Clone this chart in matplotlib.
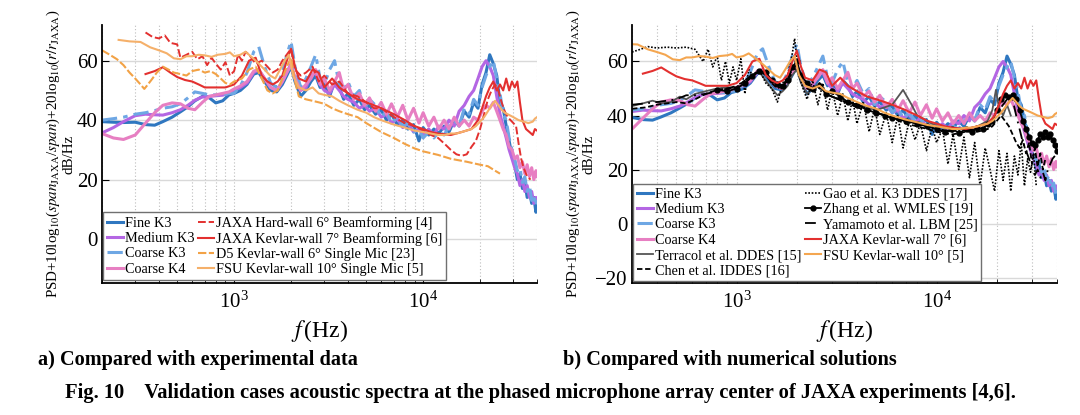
import matplotlib
matplotlib.use('Agg')
import matplotlib.pyplot as plt
from matplotlib.ticker import LogLocator, NullFormatter

plt.rcParams['font.family'] = ['Liberation Serif', 'DejaVu Serif']
plt.rcParams['mathtext.fontset'] = 'stix'

# ===== CFD spectra, shared frequency grid (Hz) / PSD (dB/Hz) ===== #
f_cfd = [200, 230, 260, 300, 340, 380, 420, 470, 520, 570,
         620, 680, 740, 800, 870, 940, 1000, 1080, 1170, 1270,
         1350, 1450, 1560, 1680, 1800, 1900, 2000, 2100, 2250, 2400,
         2550, 2700, 2850, 3000, 3200, 3400, 3600, 3800, 4000, 4300,
         4600, 4900, 5200, 5600, 6000, 6400, 6800, 7300, 7800, 8300,
         8900, 9500, 10000, 10700, 11400, 12100, 12900, 13700, 14600, 15500,
         16500, 17500, 18500, 19500, 20500, 21500, 22500, 23500, 24500, 25500,
         26500, 27500, 28500, 29500, 30500, 31500, 32500, 33500, 34500, 35500,
         36500, 37500, 38500, 39500, 40000]

fine_k3 = [39.5, 39.3, 39.2, 39.3, 38.5, 38.3, 39.5, 41.0, 42.8, 44.5,
           46.5, 48.0, 47.5, 45.8, 46.5, 48.5, 49.0, 50.0, 52.0, 55.5,
           56.0, 53.0, 50.0, 49.5, 52.0, 55.0, 58.0, 53.0, 48.0, 50.0,
           53.0, 55.0, 51.0, 52.0, 48.0, 53.0, 51.0, 47.0, 49.0, 45.0,
           47.0, 43.5, 45.0, 42.0, 43.5, 40.0, 42.0, 38.5, 40.0, 37.0,
           38.5, 33.0, 37.5, 35.0, 37.0, 35.5, 38.0, 36.0, 40.0, 38.0,
           43.0, 41.0, 46.0, 44.0, 52.0, 56.0, 62.0, 59.0, 55.0, 46.0,
           44.0, 38.0, 33.0, 28.0, 25.0, 20.0, 22.0, 17.0, 19.0, 14.0,
           16.0, 12.0, 14.0, 9.0, 12.0]

medium_k3 = [35.7, 37.5, 39.5, 41.5, 42.0, 41.8, 41.7, 42.5, 43.5, 45.0,
             46.7, 47.8, 48.0, 48.2, 48.4, 49.0, 50.0, 51.0, 52.5, 56.0,
             57.0, 54.0, 51.0, 50.0, 53.0, 56.0, 59.0, 54.0, 50.0, 51.0,
             55.0, 56.0, 52.0, 50.0, 49.0, 52.0, 50.0, 48.0, 47.0, 46.0,
             44.0, 45.0, 43.0, 44.0, 41.0, 42.0, 39.0, 40.5, 37.5, 39.0,
             36.0, 37.0, 35.0, 37.0, 35.0, 38.0, 37.0, 40.0, 38.0, 43.0,
             45.0, 48.0, 50.0, 54.0, 58.0, 60.0, 58.0, 55.0, 48.0, 42.0,
             38.0, 34.0, 30.0, 27.0, 24.0, 22.0, 18.0, 20.0, 16.0, 18.0,
             14.0, 16.0, 12.0, 14.0, 13.0]

coarse_k3 = [40.0, 40.5, 41.0, 42.0, 42.5, 43.2, 44.0, 44.5, 45.5, 47.5,
             49.5, 49.0, 48.5, 48.5, 48.5, 49.0, 49.0, 51.5, 56.0, 63.0,
             64.7, 58.0, 52.5, 51.0, 56.0, 62.0, 66.5, 58.0, 51.0, 54.0,
             58.0, 62.0, 54.0, 52.0, 57.0, 60.0, 52.0, 50.0, 53.0, 48.0,
             50.0, 44.0, 47.0, 45.0, 41.0, 43.0, 39.0, 41.0, 38.0, 39.0,
             36.0, 37.0, 34.0, 36.0, 34.0, 36.0, 35.0, 38.0, 40.0, 38.0,
             44.0, 42.0, 47.0, 45.0, 51.0, 55.0, 58.0, 60.0, 54.0, 49.0,
             42.0, 40.0, 34.0, 30.0, 27.0, 23.0, 24.0, 19.0, 21.0, 16.0,
             18.0, 13.0, 15.0, 11.0, 13.0]

coarse_k4 = [35.5, 34.0, 33.5, 35.0, 39.0, 42.5, 45.0, 45.8, 45.5, 44.0,
             43.5, 46.0, 48.0, 48.5, 49.0, 49.5, 50.5, 51.5, 53.0, 56.5,
             57.0, 54.0, 51.0, 50.0, 53.0, 56.0, 58.5, 54.0, 50.0, 52.0,
             54.0, 57.0, 52.0, 54.0, 50.0, 53.0, 56.0, 50.0, 52.0, 47.0,
             49.0, 45.0, 47.5, 43.0, 46.0, 42.0, 45.5, 41.0, 45.0, 40.0,
             44.0, 39.0, 42.5, 38.0, 41.0, 37.0, 40.0, 37.0, 41.0, 38.0,
             40.0, 38.0, 41.0, 40.0, 43.0, 45.0, 44.0, 46.0, 43.0, 40.0,
             37.0, 35.0, 31.0, 30.0, 27.0, 28.0, 24.0, 26.0, 22.0, 25.0,
             21.0, 24.0, 20.0, 23.0, 21.0]

# ===== experiments ===== #
f_jaxa_hard = [340, 370, 400, 430, 460, 500, 520, 560, 600, 640, 680, 720, 760, 800, 850,
               900, 950, 1000, 1050, 1100, 1150, 1200, 1300, 1400, 1500, 1600, 1700, 1800,
               2000, 2100, 2250, 2400, 2600, 2800, 3000, 3300, 3600, 4000, 4500, 5000, 5500,
               6000, 7000, 8000, 9000, 10000, 11000, 12000, 13000, 14000, 15000, 16000, 17000,
               18000, 19000, 20000, 21000, 22000, 23000, 24000, 25000, 26000, 27000, 28000,
               29000, 30000, 31000, 32000, 33000, 34000, 35500, 37000]
jaxa_hard = [69.5, 68.0, 67.5, 68.5, 66.0, 65.5, 61.0, 62.0, 63.0, 60.5, 61.5, 58.5, 61.0, 59.0, 57.0,
             59.5, 55.0, 56.5, 62.0, 60.0, 63.0, 62.0, 59.0, 60.0, 58.0, 56.0, 57.0, 60.0,
             64.0, 57.0, 55.0, 56.0, 58.0, 53.0, 55.0, 52.0, 53.0, 49.0, 48.0, 46.0, 44.0,
             44.0, 41.0, 39.0, 38.0, 36.5, 35.0, 34.0, 32.0, 30.0, 28.5, 28.0, 28.5,
             31.0, 33.0, 37.0, 42.0, 47.0, 50.0, 52.0, 50.0, 46.0, 43.0, 41.0,
             40.0, 39.0, 38.0, 32.0, 27.0, 24.0, 21.0, 20.0]

f_jaxa_kevlar = [340, 380, 420, 460, 500, 550, 600, 650, 700, 800, 900, 1000, 1100, 1200,
                 1300, 1400, 1500, 1600, 1700, 1800, 1900, 2000, 2100, 2200, 2400, 2600, 2800,
                 3000, 3300, 3600, 4000, 4500, 5000, 5500, 6000, 7000, 8000, 9000, 10000, 11000,
                 12000, 14000, 16000, 18000, 19500, 20500, 21500, 22500, 23500, 24500, 25500,
                 26500, 27500, 28500, 29500, 30500, 31500, 32500, 33500, 35000, 36500, 38000,
                 39000, 40000]
jaxa_kevlar = [55.5, 56.5, 57.8, 56.0, 54.5, 53.5, 53.0, 52.0, 51.0, 51.0, 51.0, 52.0, 55.0, 60.0,
               61.0, 55.0, 53.0, 52.0, 53.0, 55.0, 60.0, 64.0, 58.0, 54.0, 53.0, 57.0, 56.0,
               51.0, 54.0, 51.0, 49.0, 47.0, 46.0, 45.0, 44.0, 42.0, 40.0, 38.0, 37.0, 36.0,
               35.5, 35.0, 36.0, 37.0, 40.0, 44.0, 48.0, 51.0, 53.0, 50.0, 52.0,
               50.0, 54.0, 50.0, 53.0, 51.0, 53.0, 46.0, 40.0, 37.0, 36.0, 35.0,
               37.0, 36.5]

f_d5 = [200, 220, 240, 260, 280, 300, 320, 335, 350, 370, 390, 420, 450, 480, 520, 560,
        600, 650, 700, 750, 800, 850, 900, 950, 1000, 1100, 1200, 1300, 1400, 1500, 1600,
        1700, 1800, 1900, 2000, 2100, 2200, 2400, 2600, 2800, 3000, 3300, 3600, 4000, 4500,
        5000, 6000, 7000, 8000, 9000, 10000, 12000, 14000, 17000, 20000, 22000, 24000, 25500]
d5_kevlar = [63.5, 62.0, 60.5, 58.5, 56.0, 54.0, 52.0, 50.5, 52.0, 54.0, 56.0, 58.0, 57.0, 56.0, 55.5, 55.0,
             56.5, 57.0, 56.0, 56.5, 55.5, 54.0, 52.5, 52.0, 53.0, 54.0, 57.0, 58.0, 54.0, 50.0, 49.0,
             50.0, 54.0, 58.0, 61.0, 53.0, 48.0, 47.0, 46.5, 46.0, 45.5, 44.0, 43.0, 42.0, 41.0,
             39.0, 36.0, 34.0, 32.0, 30.5, 29.5, 28.3, 27.0, 26.0, 25.0, 24.5, 23.0, 22.0]

f_fsu = [245, 280, 320, 360, 400, 440, 480, 520, 560, 600, 650, 700, 760, 820, 900, 950,
         1000, 1080, 1150, 1250, 1350, 1450, 1550, 1650, 1750, 1850, 1950, 2050, 2200, 2400,
         2600, 2800, 3000, 3300, 3600, 4000, 4500, 5000, 5500, 6000, 7000, 8000, 9000, 10000,
         11000, 12000, 13000, 14000, 15000, 16000, 17000, 18000, 19000, 20000, 21000, 22000,
         23000, 24000, 25000, 26000, 27000, 28000, 30000, 32000, 34000, 36000, 38000, 39000, 40000]
fsu_kevlar = [67.0, 66.5, 66.3, 64.5, 63.5, 62.5, 60.8, 60.5, 61.5, 61.5, 62.0, 61.8, 61.3, 62.0, 62.3, 62.8,
              61.5, 62.0, 63.0, 61.0, 59.0, 57.0, 55.0, 54.0, 57.0, 60.0, 62.0, 55.0, 51.0, 50.0,
              51.0, 49.0, 48.5, 48.0, 46.5, 45.0, 43.5, 42.5, 41.0, 40.0, 38.5, 37.5, 36.5, 36.0,
              35.5, 35.0, 35.0, 35.5, 35.5, 36.0, 36.5, 37.0, 38.0, 39.5, 41.0, 43.0,
              45.0, 46.5, 45.0, 43.5, 42.5, 42.0, 41.0, 40.0, 39.5, 39.0, 39.5, 40.5, 41.0]

# ===== other numerical solutions ===== #
f_terracol = [300, 340, 380, 420, 470, 520, 560, 620, 700, 800, 900, 1000, 1100, 1200, 1300,
              1400, 1500, 1600, 1700, 1800, 1900, 2000, 2100, 2250, 2400, 2600, 2800, 3000,
              3500, 4000, 5000, 6000, 6800, 7500, 8000, 9000, 10000, 12000, 14000, 16000,
              18000, 19000, 19800, 20500, 21500, 22500, 23500]
terracol = [43.5, 44.5, 45.5, 44.5, 45.0, 47.0, 46.0, 48.0, 49.0, 50.0, 50.5, 50.0, 52.0, 55.0, 56.0,
            53.0, 50.0, 47.5, 49.0, 51.0, 55.0, 57.0, 52.0, 48.0, 50.0, 52.0, 48.0, 47.0,
            45.0, 44.0, 42.0, 44.0, 49.5, 44.0, 40.0, 38.0, 36.0, 35.0, 35.0, 36.0,
            38.0, 42.0, 49.5, 43.0, 40.0, 44.0, 40.0]

f_chen = [300, 350, 400, 450, 500, 560, 620, 700, 800, 900, 1000, 1100, 1200, 1300, 1400,
          1500, 1600, 1700, 1800, 1900, 2000, 2100, 2250, 2400, 2600, 2800, 3000, 3500, 4000,
          5000, 6000, 7000, 8000, 9000, 10000, 12000, 14000, 16000, 18000, 19000, 20000, 21000,
          22000, 23000, 24000, 25000, 26000, 27000, 28000, 29000, 30000, 31000, 32000, 33000,
          34000, 35000]
chen = [42.5, 43.0, 44.0, 44.5, 45.0, 44.5, 46.0, 48.0, 49.5, 50.0, 50.5, 53.0, 55.0, 56.5, 55.0,
        52.0, 50.0, 51.0, 54.0, 57.0, 59.0, 54.0, 50.0, 49.0, 52.0, 48.0, 47.0, 45.0, 44.0,
        41.0, 39.0, 37.0, 36.0, 35.0, 34.0, 33.0, 34.0, 34.0, 35.0, 36.0, 38.0, 40.0,
        38.0, 36.0, 33.0, 30.0, 28.0, 31.0, 26.0, 30.0, 22.0, 28.0, 21.0, 26.0,
        20.0, 24.0]

f_gao = [300, 330, 360, 400, 450, 500, 560, 620, 680, 720, 760, 800, 840, 880, 920, 960,
         1000, 1050, 1100, 1150, 1200, 1300, 1400, 1500, 1600, 1700, 1800, 1900, 1950, 2050,
         2150, 2250, 2400, 2550, 2700, 2850, 3000, 3200, 3400, 3600, 3800, 4000, 4300, 4600,
         4900, 5200, 5600, 6000, 6400, 6800, 7300, 7800, 8300, 8900, 9500, 10000, 10700,
         11400, 12100, 12900, 13700, 14600, 15500, 16500, 17500, 18500, 19500, 20500, 21500,
         22500, 23500, 24500, 25500, 26500, 27500, 28500, 29500, 30500, 31500]
gao = [63.5, 64.5, 65.5, 65.0, 65.3, 65.0, 65.3, 64.5, 60.0, 64.5, 58.0, 62.0, 53.0, 60.0, 52.0, 58.0,
       53.0, 61.0, 48.0, 57.0, 55.0, 57.0, 52.0, 50.0, 45.0, 52.0, 55.0, 63.0, 68.5, 55.0,
       50.0, 46.0, 53.0, 44.0, 52.0, 42.0, 50.0, 40.0, 48.0, 38.0, 46.0, 37.0, 45.0, 34.0,
       43.0, 33.0, 41.0, 30.0, 40.0, 28.0, 38.0, 31.0, 37.0, 27.0, 36.0, 30.0, 35.0,
       22.0, 33.0, 20.0, 32.0, 17.0, 30.0, 14.0, 28.0, 20.0, 12.0, 27.0, 16.0,
       26.0, 12.0, 25.0, 18.0, 30.0, 14.0, 24.0, 19.0, 26.0, 14.0]

f_zhang = [800, 900, 1000, 1100, 1200, 1300, 1400, 1500, 1600, 1700, 1800, 1900, 2000, 2100,
           2250, 2400, 2600, 2800, 3000, 3300, 3600, 4000, 4500, 5000, 5500, 6000, 7000, 8000,
           9000, 10000, 11000, 12000, 13000, 14000, 15000, 16000, 17000, 18000, 19000, 20000,
           21000, 22000, 23000, 24000, 25000, 26000, 27000, 28000, 29000, 30000, 31000, 32000,
           33000, 34000, 35000, 36000, 37000, 38000, 39000, 40000]
zhang = [49.5, 49.0, 50.0, 52.0, 54.5, 56.5, 56.0, 53.0, 51.5, 51.0, 53.0, 58.0, 60.0, 55.0,
         52.0, 50.0, 51.0, 48.0, 49.0, 47.0, 45.0, 44.0, 42.0, 41.0, 40.0, 39.0, 38.0, 37.0,
         36.0, 35.0, 34.0, 35.0, 33.5, 35.0, 34.0, 35.5, 35.0, 37.0, 38.0, 42.0,
         46.0, 47.5, 47.0, 47.5, 46.0, 42.0, 38.0, 35.0, 32.0, 30.0, 29.0, 31.0,
         33.0, 32.0, 34.0, 32.0, 33.0, 31.0, 29.0, 27.0]

f_yamamoto = [300, 350, 400, 450, 500, 560, 620, 700, 800, 900, 1000, 1100, 1200, 1300, 1400,
              1500, 1600, 1700, 1800, 1900, 2000, 2100, 2250, 2400, 2600, 2800, 3000, 3500,
              4000, 5000, 6000, 7000, 8000, 9000, 10000, 12000, 14000, 16000, 18000, 20000,
              21000, 22000, 23000, 24000, 25000, 26000, 27000, 28000, 29000, 30000, 31000,
              32000, 33000, 34000, 35000, 36000, 37000, 38000, 40000]
yamamoto = [44.0, 44.5, 45.0, 45.5, 46.0, 47.5, 47.5, 48.0, 49.0, 50.0, 51.0, 53.0, 55.0, 56.0, 55.0,
            53.0, 52.0, 51.0, 53.0, 56.0, 58.0, 54.0, 51.0, 50.0, 51.0, 48.0, 47.0, 45.0,
            43.0, 41.0, 39.5, 38.0, 37.0, 36.0, 35.0, 34.0, 34.5, 35.0, 36.0, 40.0,
            43.0, 45.0, 47.0, 46.0, 40.0, 35.0, 30.0, 27.0, 24.0, 20.0, 18.0,
            20.0, 17.0, 19.0, 16.0, 20.0, 22.0, 24.0, 26.0]

# ===== labels ===== #
ylabel_txt = ('PSD+10log$_{10}$($span_{\\rm JAXA}$/$span$)+20log$_{10}$($r/r_{\\rm JAXA}$)\n'
              'dB/Hz')
caption_a = 'a) Compared with experimental data'
caption_b = 'b) Compared with numerical solutions'
fig_caption = ('Fig. 10    Validation cases acoustic spectra at the phased microphone '
               'array center of JAXA experiments [4,6].')

c_fine = '#2f77c0'
c_medium = '#b466e3'
c_coarse3 = '#6ea7e4'
c_coarse4 = '#e77fc2'
c_red = '#e3302f'
c_orange = '#f4a650'


def style_axes(ax, xlim, ylim, yticks, label_x):
    ax.set_xscale('log')
    ax.set_xlim(*xlim)
    ax.set_ylim(*ylim)
    ax.set_yticks(yticks)
    ax.xaxis.set_minor_locator(LogLocator(base=10, subs=range(2, 10)))
    ax.xaxis.set_minor_formatter(NullFormatter())
    ax.grid(axis='y', which='major', color='#d9d9d9', lw=1.0, ls='-')
    ax.grid(axis='x', which='both', color='#bdbdbd', lw=0.8, ls=(0, (1, 2)))
    ax.set_axisbelow(True)
    for s in ['top', 'right']:
        ax.spines[s].set_visible(False)
    ax.spines['left'].set_linewidth(1.3)
    ax.spines['bottom'].set_linewidth(1.3)
    ax.tick_params(direction='in', which='both', labelsize=15, top=False, right=False)
    ax.tick_params(axis='y', pad=3)
    ax.tick_params(axis='x', pad=6)
    ax.tick_params(which='major', length=5)
    ax.tick_params(which='minor', length=3)
    ax.set_xlabel(r'$f\,$(Hz)', fontsize=17, labelpad=4)
    ax.set_ylabel(ylabel_txt, fontsize=10.8, linespacing=1.1)
    ax.yaxis.set_label_coords(label_x, 0.5)


def draw_cfd(ax):
    ax.plot(f_cfd, fine_k3, color=c_fine, lw=2.2, label='Fine K3')
    ax.plot(f_cfd, medium_k3, color=c_medium, lw=2.2, label='Medium K3')
    ax.plot(f_cfd, coarse_k3, color=c_coarse3, lw=2.2, ls=(0, (5, 2, 1.5, 2)), label='Coarse K3')
    ax.plot(f_cfd, coarse_k4, color=c_coarse4, lw=2.2, label='Coarse K4')


leg_kw = dict(fontsize=10.3, handlelength=1.15, handletextpad=0.1, columnspacing=0.25,
              labelspacing=0.16, borderpad=0.25, borderaxespad=0.0, fancybox=False,
              framealpha=1.0, edgecolor='#707070')

fig = plt.figure(figsize=(10.8, 4.15), dpi=100)
ax1 = fig.add_axes([0.0944, 0.318, 0.4028, 0.6217])
ax2 = fig.add_axes([0.5852, 0.318, 0.3935, 0.6217])

# ---- a) experiments ---- #
draw_cfd(ax1)
ax1.plot(f_jaxa_hard, jaxa_hard, color=c_red, lw=1.4, ls=(0, (4, 1.5)),
         label='JAXA Hard-wall 6° Beamforming [4]')
ax1.plot(f_jaxa_kevlar, jaxa_kevlar, color=c_red, lw=1.5, label='JAXA Kevlar-wall 7° Beamforming [6]')
ax1.plot(f_d5, d5_kevlar, color='#f2a246', lw=1.5, ls=(0, (4, 1.2)),
         label='D5 Kevlar-wall 6° Single Mic [23]')
ax1.plot(f_fsu, fsu_kevlar, color='#f5b06a', lw=1.5, label='FSU Kevlar-wall 10° Single Mic [5]')
style_axes(ax1, (200, 40000), (-14.8, 72), [0, 20, 40, 60], -0.06)
ax1.legend(loc='lower left', bbox_to_anchor=(0.003, 0.012), ncol=2, **leg_kw)

# ---- b) numerical ---- #
draw_cfd(ax2)
ax2.plot(f_terracol, terracol, color='#555555', lw=1.3, label='Terracol et al. DDES [15]')
ax2.plot(f_chen, chen, color='black', lw=1.3, ls=(0, (3, 1.5)), label='Chen et al. IDDES [16]')
ax2.plot(f_gao, gao, color='black', lw=1.2, ls=(0, (1, 1)), label='Gao et al. K3 DDES [17]')
ax2.plot(f_zhang, zhang, color='black', lw=1.3, marker='o', ms=3.5, label='Zhang et al. WMLES [19]')
ax2.plot(f_yamamoto, yamamoto, color='black', lw=1.3, ls=(0, (6, 3, 1, 3)),
         label='Yamamoto et al. LBM [25]')
ax2.plot(f_jaxa_kevlar, jaxa_kevlar, color=c_red, lw=1.5, label='JAXA Kevlar-wall 7° [6]')
ax2.plot(f_fsu, fsu_kevlar, color=c_orange, lw=1.5, label='FSU Kevlar-wall 10° [5]')
style_axes(ax2, (300, 40000), (-22, 73.5), [-20, 0, 20, 40, 60], -0.085)
ax2.legend(loc='lower left', bbox_to_anchor=(0.003, 0.008), ncol=2, **leg_kw)

# ---- captions ---- #
fig.text(38 / 1080, 1 - 360 / 415, caption_a, fontsize=14.6, fontweight='bold', va='center')
fig.text(563 / 1080, 1 - 360 / 415, caption_b, fontsize=14.6, fontweight='bold', va='center')
fig.text(0.5, 1 - 393 / 415, fig_caption, fontsize=14.8, fontweight='bold', va='center', ha='center')

fig.savefig('out.png', dpi=100)
